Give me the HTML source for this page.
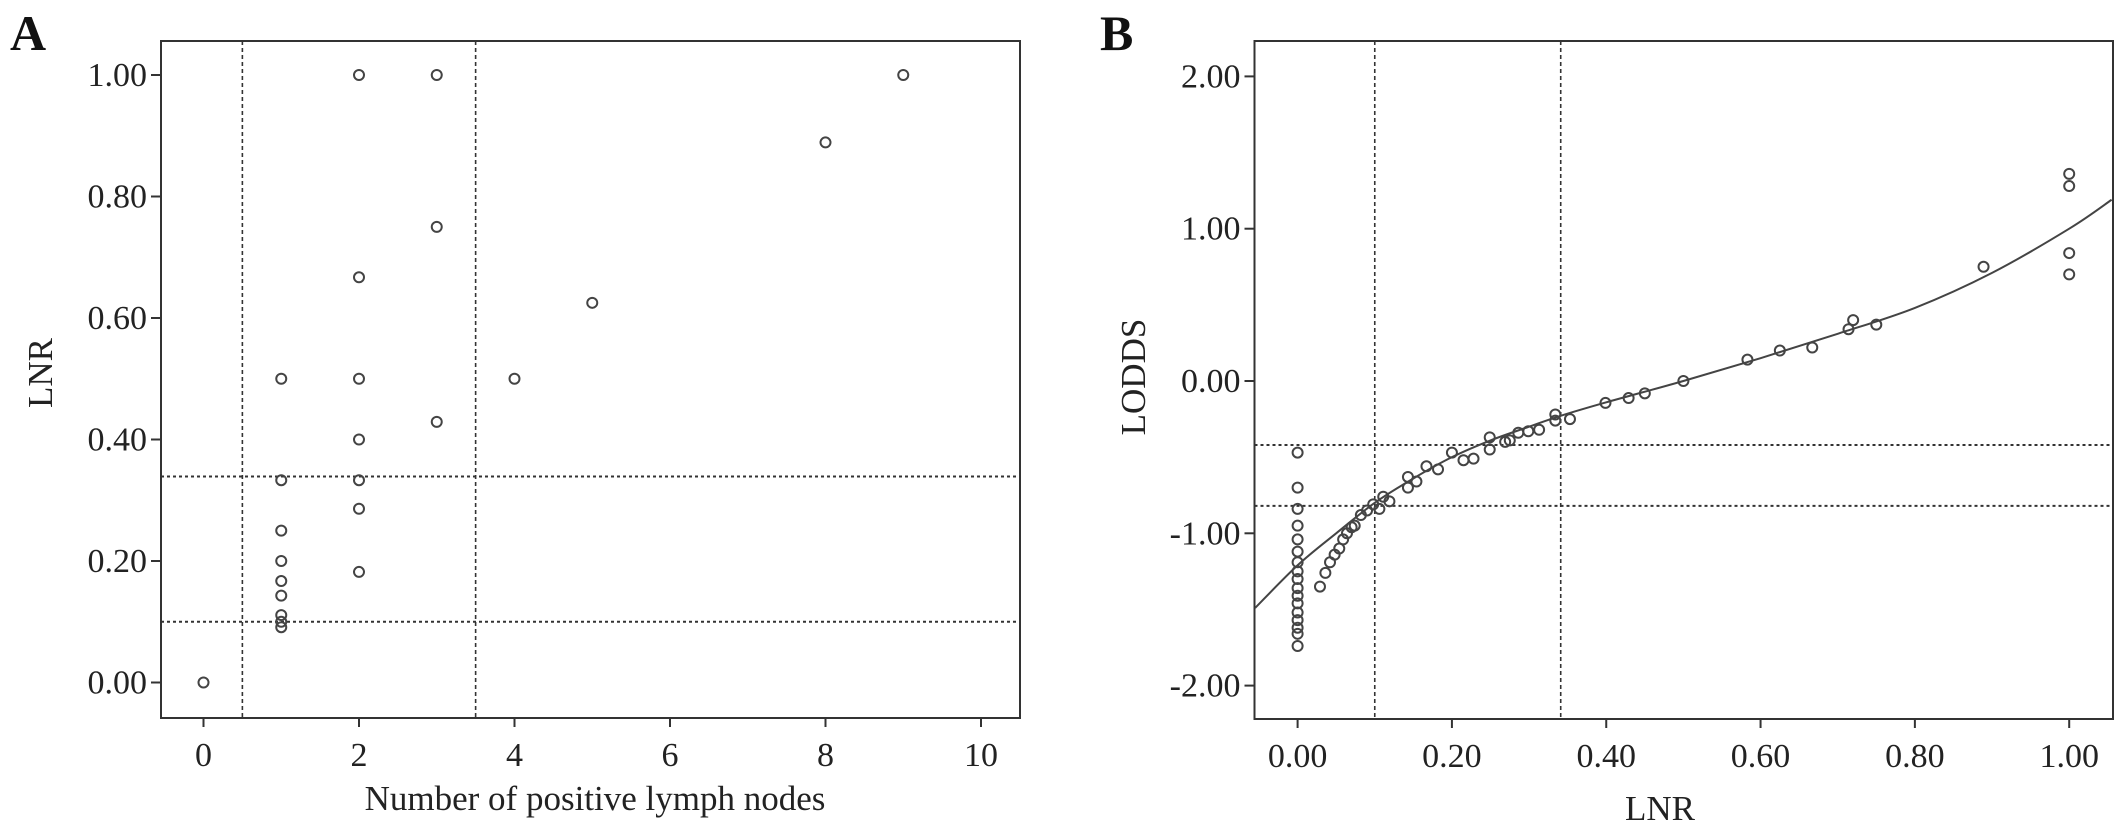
<!DOCTYPE html>
<html><head><meta charset="utf-8"><style>
html,body{margin:0;padding:0;background:#fff;}
svg{display:block;font-family:"Liberation Serif",serif;}
</style></head><body>
<svg id="fig" width="2126" height="832" viewBox="0 0 2126 832" xmlns="http://www.w3.org/2000/svg"></svg>
<script>
// Panel A data
const aX = [0, 1,1,1,1,1,1,1,1,1, 2,2,2,2,2,2,2, 3,3,3, 4, 5, 8, 9];
const aY = [0, 0.5,0.333,0.25,0.2,0.167,0.143,0.111,0.1,0.091, 1.0,0.667,0.5,0.4,0.333,0.286,0.182, 1.0,0.75,0.429, 0.5, 0.625, 0.889, 1.0];
const aXTicks = [0,2,4,6,8,10];
const aYTicks = [0,0.2,0.4,0.6,0.8,1.0];
const aYTickLabels = ["0.00","0.20","0.40","0.60","0.80","1.00"];
const aVLines = [0.5, 3.5];
const aHLines = [0.1, 0.339];
// Panel B data
const bX = [0,0,0,0,0,0,0,0,0,0,0,0,0,0,0,0,0,
  0.029,0.036,0.042,0.048,0.054,0.059,0.064,0.070,0.074,0.082,0.090,0.098,0.106,0.111,0.119,0.143,0.143,0.154,0.167,0.182,0.200,0.215,0.228,0.249,0.249,0.269,0.275,0.286,0.299,0.313,0.334,0.334,0.353,
  0.399,0.429,0.450,0.500,0.583,0.625,0.667,0.714,0.720,0.750,0.889,1.0,1.0,1.0,1.0];
const bY = [-0.47,-0.70,-0.84,-0.95,-1.04,-1.12,-1.19,-1.25,-1.30,-1.36,-1.41,-1.46,-1.52,-1.57,-1.62,-1.66,-1.74,
  -1.35,-1.26,-1.19,-1.14,-1.10,-1.04,-1.00,-0.96,-0.95,-0.88,-0.85,-0.81,-0.84,-0.76,-0.79,-0.63,-0.70,-0.66,-0.56,-0.58,-0.47,-0.52,-0.51,-0.37,-0.45,-0.40,-0.39,-0.34,-0.33,-0.32,-0.22,-0.26,-0.25,
  -0.144,-0.112,-0.081,0.0,0.14,0.20,0.22,0.34,0.40,0.37,0.75,1.36,1.28,0.84,0.70];
const curveX = [-0.055,0,0.05,0.1,0.15,0.2,0.25,0.3,0.34,0.4,0.5,0.6,0.7,0.8,0.9,1.0,1.055];
const curveY = [-1.49,-1.21,-1.0,-0.80,-0.64,-0.50,-0.39,-0.30,-0.23,-0.14,0.0,0.15,0.31,0.48,0.71,1.00,1.19];
const bXTicks = [0,0.2,0.4,0.6,0.8,1.0];
const bXTickLabels = ["0.00","0.20","0.40","0.60","0.80","1.00"];
const bYTicks = [-2,-1,0,1,2];
const bYTickLabels = ["-2.00","-1.00","0.00","1.00","2.00"];
const bVLines = [0.1, 0.341];
const bHLines = [-0.42, -0.82];

const NS = "http://www.w3.org/2000/svg";
const svg = document.getElementById('fig');
function mk(tag, attrs, parent){
  const e = document.createElementNS(NS, tag);
  for (const k in attrs) e.setAttribute(k, attrs[k]);
  (parent||svg).appendChild(e);
  return e;
}
function panel(cfg){
  const g = mk('g', {});
  
  
  const sx = v => cfg.x0 + (v - cfg.xa) * cfg.xs;
  const sy = v => cfg.y0 - (v - cfg.ya) * cfg.ys;
  // frame
  const fr = mk('rect', {x:cfg.L, y:cfg.T, width:cfg.R-cfg.L, height:cfg.B-cfg.T, fill:'none', stroke:'#333', 'stroke-width':2}, g);
  
  
  // cut-off lines
  cfg.vl.forEach(v => {
    const l = mk('line', {x1:sx(v), x2:sx(v), y1:cfg.T, y2:cfg.B, stroke:'#333', 'stroke-width':1.6, 'stroke-dasharray':'4,3'}, g);
    
    
  });
  cfg.hl.forEach(v => {
    const l = mk('line', {x1:cfg.L, x2:cfg.R, y1:sy(v), y2:sy(v), stroke:'#333', 'stroke-width':2, 'stroke-dasharray':'3,3'}, g);
    
    
  });
  // x ticks
  cfg.xt.forEach((v,i) => {
    mk('line', {x1:sx(v), x2:sx(v), y1:cfg.B, y2:cfg.B+9, stroke:'#333', 'stroke-width':2}, g);
    const t = mk('text', {x:sx(v), y:cfg.B+48, 'text-anchor':'middle', 'font-size':34, fill:'#222'}, g);
    t.textContent = cfg.xtl[i];
    
    
  });
  cfg.yt.forEach((v,i) => {
    mk('line', {x1:cfg.L-10, x2:cfg.L, y1:sy(v), y2:sy(v), stroke:'#333', 'stroke-width':2}, g);
    const t = mk('text', {x:cfg.L-14, y:sy(v)+11, 'text-anchor':'end', 'font-size':34, fill:'#222'}, g);
    t.textContent = cfg.ytl[i];
    
    
  });
  // curve
  if (cfg.cx){
    const P = cfg.cx.map((v,i)=>[sx(v), sy(cfg.cy[i])]);
    let d = 'M'+P[0][0]+','+P[0][1];
    for (let i=0;i<P.length-1;i++){
      const p0=P[Math.max(i-1,0)], p1=P[i], p2=P[i+1], p3=P[Math.min(i+2,P.length-1)];
      const c1=[p1[0]+(p2[0]-p0[0])/6, p1[1]+(p2[1]-p0[1])/6];
      const c2=[p2[0]-(p3[0]-p1[0])/6, p2[1]-(p3[1]-p1[1])/6];
      d += ' C'+c1[0]+','+c1[1]+' '+c2[0]+','+c2[1]+' '+p2[0]+','+p2[1];
    }
    const c = mk('path', {d:d, fill:'none', stroke:'#444', 'stroke-width':2}, g);
    
    
  }
  // points
  cfg.px.forEach((v,i) => {
    const c = mk('circle', {cx:sx(v), cy:sy(cfg.py[i]), r:5, fill:'none', stroke:'#444', 'stroke-width':2}, g);
    
    
  });
  // titles
  const xt = mk('text', {x:cfg.xtx, y:cfg.xty, 'text-anchor':'middle', 'font-size':35, fill:'#222'}, g);
  xt.textContent = cfg.xtitle;
  
  
  const yt = mk('text', {x:0, y:0, 'text-anchor':'middle', 'font-size':35, fill:'#222', transform:'translate('+cfg.ytx+','+cfg.yty+') rotate(-90)'}, g);
  yt.textContent = cfg.ytitle;
  
  
  const pl = mk('text', {x:cfg.plx, y:50, 'font-size':50, 'font-weight':'bold', fill:'#111'}, g);
  pl.textContent = cfg.label;
  
  
}
panel({name:'panel-a', L:161, R:1020, T:41, B:718, x0:203.5, xa:0, xs:77.75, y0:682.5, ya:0, ys:607.5,
  vl:aVLines, hl:aHLines, xt:aXTicks, xtl:aXTicks.map(String), yt:aYTicks, ytl:aYTickLabels,
  px:aX, py:aY, xtitle:'Number of positive lymph nodes', xtx:595, xty:810, ytitle:'LNR', ytx:52, yty:373, plx:10, label:'A'});
panel({name:'panel-b', L:1254.5, R:2113, T:41, B:719, x0:1297.6, xa:0, xs:771.6, y0:381, ya:0, ys:152.3,
  vl:bVLines, hl:bHLines, xt:bXTicks, xtl:bXTickLabels, yt:bYTicks, ytl:bYTickLabels,
  px:bX, py:bY, cx:curveX, cy:curveY, xtitle:'LNR', xtx:1660, xty:820, ytitle:'LODDS', ytx:1145, yty:377, plx:1100, label:'B'});
</script>
</body></html>
